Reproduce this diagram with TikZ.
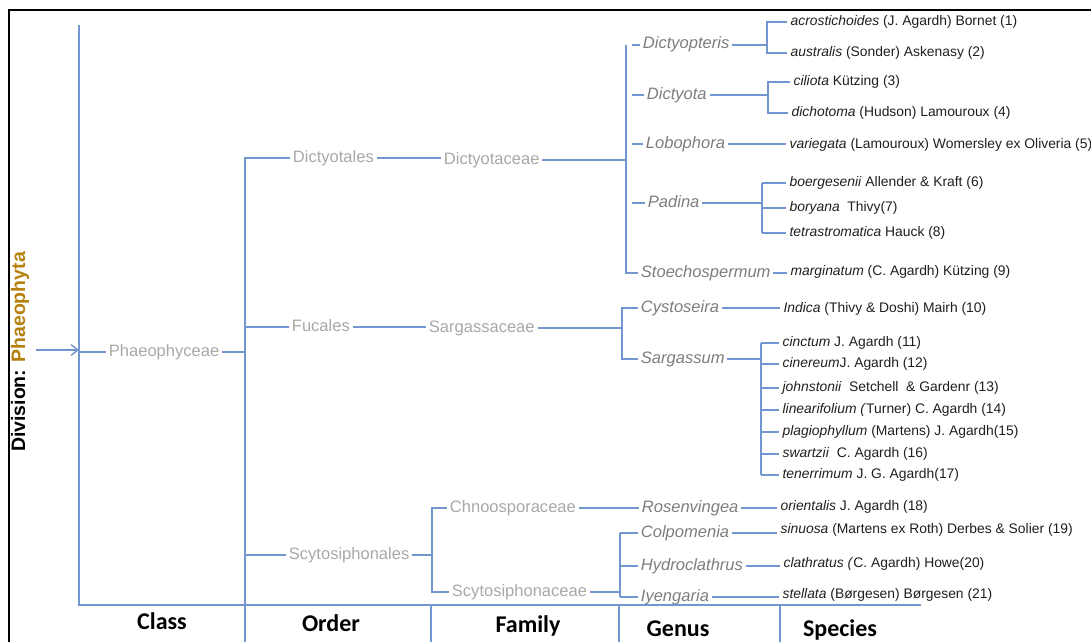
\documentclass[tikz,border=0pt]{standalone}
\usepackage{fontspec}
\setmainfont{Liberation Sans}
\newfontfamily\rankfont{Carlito}
\usetikzlibrary{arrows.meta}
\definecolor{linkblue}{RGB}{114,150,206}
\definecolor{taxgray}{RGB}{168,168,168}
\definecolor{genusgray}{RGB}{125,125,125}
\definecolor{divbrown}{RGB}{182,128,12}

\begin{document}
\begin{tikzpicture}
  [x=0.75pt,y=-0.75pt,
   link/.style={draw=linkblue,line width=1.1pt},
   boldlink/.style={draw=linkblue,line width=1.8pt},
   taxon/.style={anchor=west,inner xsep=2pt,inner ysep=0pt,text height=6pt,text depth=0pt,
     text=taxgray,font=\fontsize{12.4}{14}\selectfont},
   genus/.style={taxon,text=genusgray,font=\fontsize{12.4}{14}\selectfont\itshape},
   species/.style={anchor=west,inner xsep=2.5pt,inner ysep=0pt,text height=5.4pt,text depth=0pt,
     text=black!88,font=\fontsize{10.4}{12}\selectfont},
   rank/.style={anchor=base,font=\rankfont\bfseries\fontsize{18}{20}\selectfont}]
  \useasboundingbox (0,0) rectangle (1091,642);
  \draw[line width=2.2pt] (1091,10) -- (9,10) -- (9,642);

  \node[rotate=90,inner sep=0pt,font=\bfseries\fontsize{14.6}{16}\selectfont] (division) at (20,352)
    {Division: \textcolor{divbrown}{Phaeophyta}};

  % frame of the ranks
  \coordinate (clstop) at (79,25);
  \coordinate (clsbot) at (79,605);
  \coordinate (ordtop) at (245,157);
  \coordinate (ordbot) at (245,642);
  \coordinate (baseend) at (921,605);
  \coordinate (arrowtail) at (36,350);
  \coordinate (famcol) at (431,642);
  \coordinate (gencol) at (619,642);
  \coordinate (spcol) at (780,642);

  % class, orders, families
  \node[taxon] (phaeo) at (106,352) {Phaeophyceae};
  \node[taxon] (dictyotales) at (290,158) {Dictyotales};
  \node[taxon] (fucales) at (289,327) {Fucales};
  \node[taxon] (scytosiphonales) at (286,555) {Scytosiphonales};
  \node[taxon] (dictyotaceae) at (441,160) {Dictyotaceae};
  \node[taxon] (sargassaceae) at (426,328) {Sargassaceae};
  \node[taxon] (chnoosporaceae) at (447,508) {Chnoosporaceae};
  \node[taxon] (scytosiphonaceae) at (449,592) {Scytosiphonaceae};

  % genera
  \node[genus] (dictyopteris) at (640,45) {Dictyopteris};
  \node[genus] (dictyota) at (644,95) {Dictyota};
  \node[genus] (lobophora) at (643,144) {Lobophora};
  \node[genus] (padina) at (645,203) {Padina};
  \node[genus] (stoechospermum) at (638,273) {Stoechospermum};
  \node[genus] (cystoseira) at (638,308) {Cystoseira};
  \node[genus] (sargassum) at (638,359) {Sargassum};
  \node[genus] (rosenvingea) at (639,508) {Rosenvingea};
  \node[genus] (colpomenia) at (638,533) {Colpomenia};
  \node[genus] (hydroclathrus) at (638,566) {Hydroclathrus};
  \node[genus] (iyengaria) at (638,597) {Iyengaria};

  % species
  \node[species] (s1) at (787,22) {\textit{acrostichoides} (J. Agardh) Bornet (1)};
  \node[species] (s2) at (787,53) {\textit{australis} (Sonder) Askenasy (2)};
  \node[species] (s3) at (790,82) {\textit{ciliota} Kützing (3)};
  \node[species] (s4) at (788,113) {\textit{dichotoma} (Hudson) Lamouroux (4)};
  \node[species] (s5) at (786,145) {\textit{variegata} (Lamouroux) Womersley ex Oliveria (5)};
  \node[species] (s6) at (786,183) {\textit{boergesenii} Allender \& Kraft (6)};
  \node[species] (s7) at (786,208) {\textit{boryana}\ \ Thivy(7)};
  \node[species] (s8) at (786,233) {\textit{tetrastromatica} Hauck (8)};
  \node[species] (s9) at (787,272) {\textit{marginatum} (C. Agardh) Kützing (9)};
  \node[species] (s10) at (780,309) {\textit{Indica} (Thivy \& Doshi) Mairh (10)};
  \node[species] (s11) at (779,343) {\textit{cinctum} J. Agardh (11)};
  \node[species] (s12) at (779,364) {\textit{cinereum}J. Agardh (12)};
  \node[species] (s13) at (779,388) {\textit{johnstonii}\ \ Setchell\ \ \& Gardenr (13)};
  \node[species] (s14) at (779,410) {\textit{linearifolium (}Turner) C. Agardh (14)};
  \node[species] (s15) at (779,432) {\textit{plagiophyllum} (Martens) J. Agardh(15)};
  \node[species] (s16) at (779,454) {\textit{swartzii}\ \ C. Agardh (16)};
  \node[species] (s17) at (779,475) {\textit{tenerrimum} J. G. Agardh(17)};
  \node[species] (s18) at (777,507) {\textit{orientalis} J. Agardh (18)};
  \node[species] (s19) at (777,530) {\textit{sinuosa} (Martens ex Roth) Derbes \& Solier (19)};
  \node[species] (s20) at (780,564) {\textit{clathratus (}C. Agardh) Howe(20)};
  \node[species] (s21) at (779,595) {\textit{stellata} (Børgesen) Børgesen (21)};

  % rank names
  \node[rank] (cls) at (162,629) {Class};
  \node[rank] (ord) at (331,631) {Order};
  \node[rank] (fam) at (528,632) {Family};
  \node[rank] (gen) at (678,636) {Genus};
  \node[rank] (spc) at (840,636) {Species};

  % axes
  \draw[link] (clstop) -- (clsbot) -- (baseend);
  \draw[link] (ordtop) -- (ordbot);
  \foreach \col in {famcol,gencol,spcol}
    \draw[link] (\col) -- (\col |- clsbot);
  \draw[link,-{Straight Barb[length=5pt,width=8pt]}] (arrowtail) -- (arrowtail -| clstop);

  % class to orders
  \draw[link] (phaeo.west) -- (phaeo.west -| clstop);
  \draw[link] (phaeo.east) -- (phaeo.east -| ordtop);
  \foreach \ord in {dictyotales,fucales,scytosiphonales}
    \draw[link] (\ord.west) -- (\ord.west -| ordtop);

  % orders to families
  \draw[link] (dictyotales.east) -- (dictyotales.east -| dictyotaceae.west);
  \draw[link] (fucales.east) -- (fucales.east -| sargassaceae.west);
  \coordinate (scytobr) at (432,508);
  \draw[link] (scytosiphonales.east) -- (scytosiphonales.east -| scytobr);
  \draw[link] (chnoosporaceae.west) -- (chnoosporaceae.west -| scytobr)
    -- (scytosiphonaceae.west -| scytobr) -- (scytosiphonaceae.west);

  % families to genera
  \coordinate (dictbr) at (626,45);
  \draw[link] (dictyotaceae.east) -- (dictyotaceae.east -| dictbr);
  \draw[link] (dictyopteris.west -| dictbr) -- (stoechospermum.west -| dictbr) -- (stoechospermum.west);
  \foreach \gen in {dictyopteris,dictyota,lobophora,padina}
    \draw[link] ([xshift=4.5pt]\gen.west -| dictbr) -- (\gen.west);
  \coordinate (sargbr) at (622,308);
  \draw[link] (sargassaceae.east) -- (sargassaceae.east -| sargbr);
  \draw[link] (cystoseira.west) -- (cystoseira.west -| sargbr)
    -- (sargassum.west -| sargbr) -- (sargassum.west);
  \draw[link] (chnoosporaceae.east) -- (chnoosporaceae.east -| rosenvingea.west);
  \coordinate (scybr) at (620,535);
  \draw[link] (scytosiphonaceae.east) -- (scytosiphonaceae.east -| scybr);
  \draw[link] (colpomenia.west -| scybr) -- (iyengaria.west -| scybr);
  \foreach \gen in {colpomenia,hydroclathrus,iyengaria}
    \draw[link] (\gen.west -| scybr) -- (\gen.west);

  % genera to species
  \coordinate (dptbr) at (767,22);
  \draw[link] (dictyopteris.east) -- (dictyopteris.east -| dptbr);
  \draw[link] (s1.west) -- (s1.west -| dptbr) -- (s2.west -| dptbr) -- (s2.west);
  \coordinate (dtabr) at (768,82);
  \draw[boldlink] (dictyota.east) -- (dictyota.east -| dtabr);
  \draw[link] (s3.west) -- (s3.west -| dtabr) -- (s4.west -| dtabr) -- (s4.west);
  \coordinate (padbr) at (762,183);
  \draw[link] (padina.east) -- (padina.east -| padbr);
  \draw[link] (s6.west -| padbr) -- (s8.west -| padbr);
  \foreach \sp in {s6,s7,s8}
    \draw[link] (\sp.west -| padbr) -- (\sp.west);
  \coordinate (sarbr) at (761,343);
  \draw[link] (sargassum.east) -- (sargassum.east -| sarbr);
  \draw[link] (s11.west -| sarbr) -- (s17.west -| sarbr);
  \foreach \sp in {s11,s12,s13,s14,s15,s16,s17}
    \draw[link] (\sp.west -| sarbr) -- (\sp.west);
  \foreach \from/\to in {lobophora/s5,stoechospermum/s9,cystoseira/s10,hydroclathrus/s20,iyengaria/s21}
    \draw[link] (\from.east) -- (\from.east -| \to.west);
  \foreach \from/\to in {rosenvingea/s18,colpomenia/s19}
    \draw[boldlink] (\from.east) -- (\from.east -| \to.west);
\end{tikzpicture}
\end{document}
